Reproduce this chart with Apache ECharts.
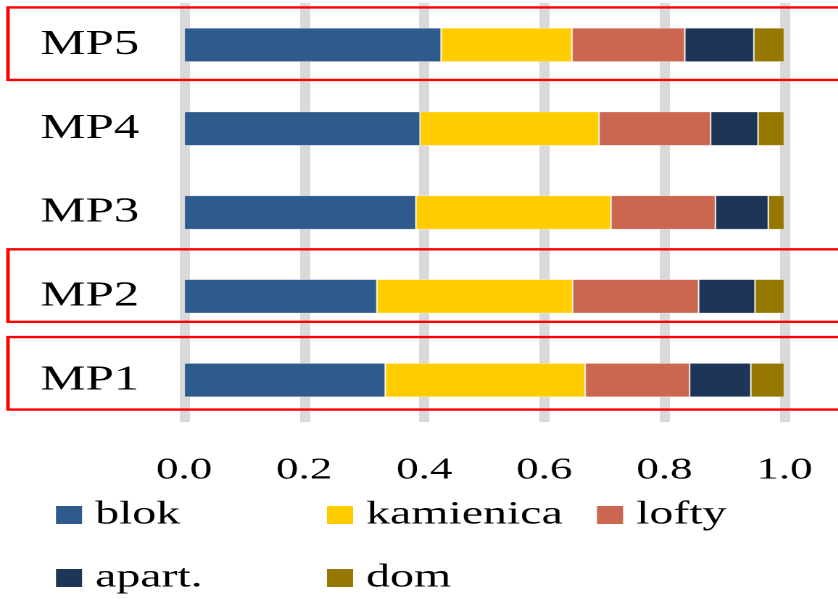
<!DOCTYPE html>
<html>
<head>
<meta charset="utf-8">
<script src="https://cdn.jsdelivr.net/npm/echarts@6/dist/echarts.min.js"></script>
<style>
  html, body { margin: 0; padding: 0; background: #fff; overflow: hidden; }
  #wrap { width: 838px; height: 599px; overflow: hidden; }
  /* the chart is laid out narrow and widened horizontally */
  #chart { width: 578px; height: 599px; transform: scaleX(1.45); transform-origin: 0 0; }
</style>
</head>
<body>
<div id="wrap"><div id="chart"></div></div>
<script>
// Share of building types per location (each row sums to 1)
const categories = ['MP1', 'MP2', 'MP3', 'MP4', 'MP5'];
const seriesNames = ['blok', 'kamienica', 'lofty', 'apart.', 'dom'];
const blok      = [0.335, 0.321, 0.386, 0.393, 0.428];
const kamienica = [0.333, 0.326, 0.325, 0.298, 0.218];
const lofty     = [0.174, 0.210, 0.174, 0.186, 0.188];
const apart     = [0.102, 0.094, 0.088, 0.079, 0.115];
const dom       = [0.056, 0.049, 0.027, 0.044, 0.051];
const xTicks = [0, 0.2, 0.4, 0.6, 0.8, 1.0];
// rows outlined in red
const highlighted = ['MP5', 'MP2', 'MP1'];

const colors = ['#2E5A8C', '#FFCC00', '#CB6650', '#1D3557', '#967700'];
const values = [blok, kamienica, lofty, apart, dom];
const FONT = 'Liberation Serif';

const chart = echarts.init(document.getElementById('chart'), null, { renderer: 'canvas', devicePixelRatio: 2 });

chart.setOption({
  animation: false,
  backgroundColor: '#fff',
  color: colors,
  textStyle: { fontFamily: FONT },
  grid: { left: 127, right: 37, top: 3, bottom: 177, containLabel: false },
  xAxis: {
    type: 'value',
    min: xTicks[0],
    max: xTicks[xTicks.length - 1],
    interval: 0.2,
    axisLine: { show: false },
    axisTick: { show: false },
    axisLabel: {
      margin: 33,
      fontFamily: FONT, fontSize: 31, color: '#000',
      formatter: v => v.toFixed(1)
    },
    splitLine: { show: true, lineStyle: { color: '#D9D9D9', width: 7 } }
  },
  yAxis: {
    type: 'category',
    data: categories,
    axisLine: { show: false },
    axisTick: { show: false },
    axisLabel: { margin: 31, fontFamily: FONT, fontSize: 35, color: '#000' }
  },
  series: seriesNames.map((name, i) => ({
    name: name,
    type: 'bar',
    stack: 'total',
    barWidth: 34,
    data: values[i],
    itemStyle: { color: colors[i], borderColor: 'rgba(255,255,255,0.55)', borderWidth: 0.6 }
  }))
});

// key: 3-column table of colour swatches and names
const keyCols = [38.6, 225.5, 411.7];
const keyRows = [515, 578];
const keyItems = [];
seriesNames.forEach((name, i) => {
  const x = keyCols[i % 3];
  const y = keyRows[Math.floor(i / 3)];
  keyItems.push({
    type: 'rect',
    shape: { x: x, y: y - 9, width: 18, height: 18 },
    style: { fill: colors[i] }
  });
  keyItems.push({
    type: 'text',
    x: x + 27, y: y,
    style: {
      text: name, fill: '#000',
      fontFamily: FONT, fontSize: 33,
      verticalAlign: 'middle'
    }
  });
});

// red outlines around selected rows, positioned from the category axis
const boxOffsets = { MP5: -37.5, MP2: -47, MP1: -43 };
const boxes = highlighted.map(cat => {
  const cy = chart.convertToPixel({ yAxisIndex: 0 }, cat);
  return {
    type: 'rect',
    shape: { x: 5.5, y: cy + boxOffsets[cat], width: 620, height: 72.5 },
    style: { fill: 'none', stroke: '#FF0000', lineWidth: 2.4 },
    z: 100
  };
});
chart.setOption({ graphic: keyItems.concat(boxes) });
</script>
</body>
</html>
